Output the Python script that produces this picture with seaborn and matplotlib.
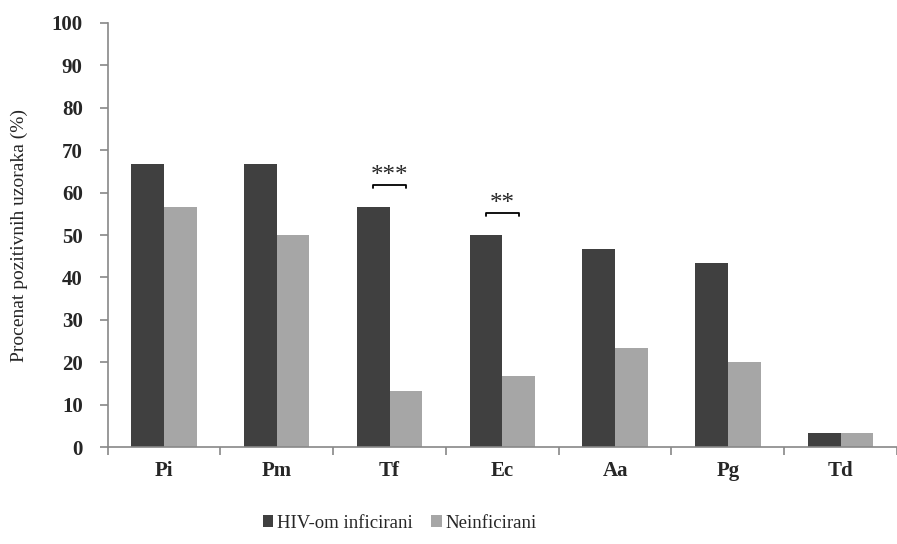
import numpy as np
import pandas as pd
import seaborn as sns
import matplotlib.pyplot as plt

categories = ['Pi', 'Pm', 'Tf', 'Ec', 'Aa', 'Pg', 'Td']
hiv = [66.7, 66.7, 56.7, 50.0, 46.7, 43.3, 3.3]
neinf = [56.7, 50.0, 13.3, 16.7, 23.3, 20.0, 3.3]
groups = ['HIV-om inficirani', 'Neinficirani']
sig_cats = ['Tf', 'Ec']
sig_labels = ['***', '**']
sig_heights = [61.8, 55.2]

df = pd.DataFrame({
    'kat': categories * 2,
    'vrednost': hiv + neinf,
    'grupa': [groups[0]] * len(categories) + [groups[1]] * len(categories),
})

sns.set_style('white')
plt.rcParams['font.family'] = ['Liberation Serif', 'DejaVu Serif']

fig = plt.figure(figsize=(8.97, 5.44), dpi=100)
ax = fig.add_axes([0.12, 0.178, 0.88, 0.78])

bar_w = 0.58
sns.barplot(data=df, x='kat', y='vrednost', hue='grupa', order=categories,
            hue_order=groups, palette=['#404040', '#a6a6a6'], saturation=1,
            width=bar_w, gap=0, ax=ax, errorbar=None, linewidth=0, edgecolor='none')

ax.set_ylim(0, 100)
ax.set_xlim(-0.5, len(categories) - 0.5)
ax.set_yticks(np.arange(0, 101, 10))
ax.set_xlabel('')
ax.set_ylabel('Procenat pozitivnih uzoraka (%)', fontsize=14, labelpad=17)
ax.tick_params(axis='y', labelsize=15, length=6, width=1.2, color='#888888',
               direction='out', left=True, pad=12)
ax.tick_params(axis='x', labelsize=15, length=0, pad=10)
for lbl in ax.get_xticklabels() + ax.get_yticklabels():
    lbl.set_fontweight('bold')

# ticks between categories on x axis
ax.set_xticks(np.arange(-0.5, len(categories), 1), minor=True)
ax.tick_params(axis='x', which='minor', length=6, width=1.2, color='#888888',
               direction='out', bottom=True)

for s in ['top', 'right']:
    ax.spines[s].set_visible(False)
for s in ['left', 'bottom']:
    ax.spines[s].set_color('#888888')
    ax.spines[s].set_linewidth(1.2)

# significance brackets (from dark bar centre to light bar centre)
for cat, lab, h in zip(sig_cats, sig_labels, sig_heights):
    i = categories.index(cat)
    x0, x1 = i - bar_w / 4, i + bar_w / 4
    ax.plot([x0, x0, x1, x1], [h - 0.8, h, h, h - 0.8], color='black', lw=1.3)
    ax.text((x0 + x1) / 2, h - 0.6, lab, ha='center', va='bottom', fontsize=18)

leg = ax.legend(loc='upper center', bbox_to_anchor=(0.37, -0.12), ncol=2, frameon=False,
                fontsize=13.5, handlelength=0.55, handleheight=0.6, handletextpad=0.2,
                columnspacing=1.0)

fig.savefig('out.png', dpi=100)
